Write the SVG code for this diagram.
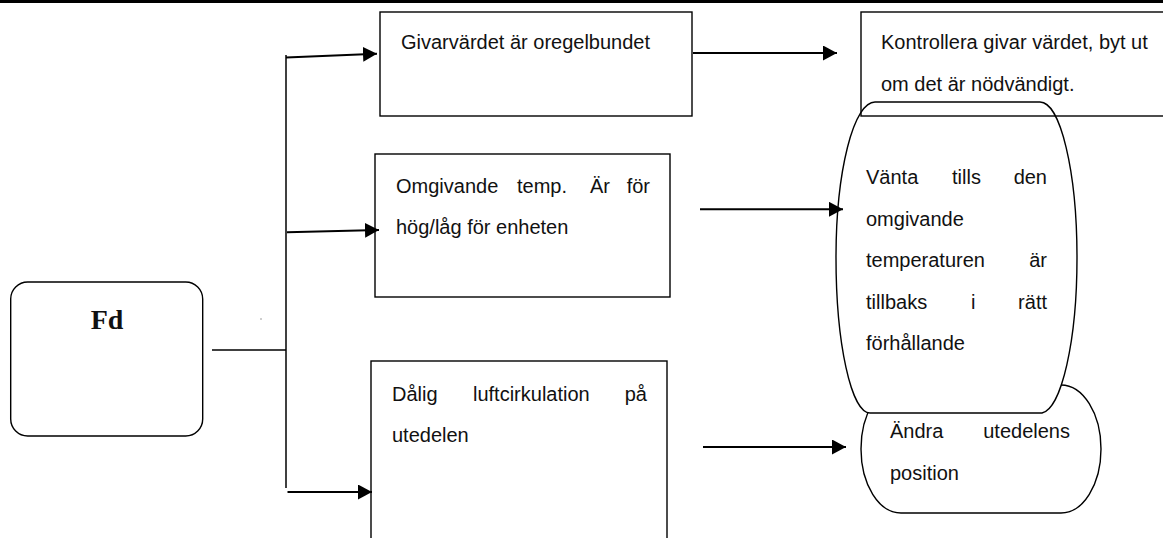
<svg xmlns="http://www.w3.org/2000/svg" width="1163" height="538" viewBox="0 0 1163 538">
  <style>
    .box { fill: #fff; stroke: #000; stroke-width: 1.4; }
    .open { fill: none; stroke: #000; stroke-width: 1.4; }
    .txt { font-family: "Liberation Sans", Arial, sans-serif; font-size: 20px; fill: #111; }
    .end { text-anchor: end; }
    .title { font-family: "Liberation Serif", "Times New Roman", serif; font-size: 28px; font-weight: bold; fill: #111; text-anchor: middle; }
    .wire { fill: none; stroke: #000; stroke-width: 2; }
    .thin { fill: none; stroke: #000; stroke-width: 1.5; }
  </style>
  <defs>
    <marker id="head" markerUnits="userSpaceOnUse" markerWidth="15" markerHeight="15" refX="14" refY="7.5" orient="auto">
      <path d="M0,0 L14,7.5 L0,15 Z" fill="#000"/>
    </marker>
  </defs>

  <rect width="1163" height="538" fill="#fff"/>
  <!-- header rule -->
  <rect x="0" y="0" width="1163" height="3" fill="#000"/>

  <!-- start node -->
  <g id="fd">
    <rect class="box" x="10.7" y="282" width="192" height="154" rx="17" ry="17"/>
    <text class="title" x="107" y="329">Fd</text>
  </g>

  <!-- causes -->
  <g id="cause-sensor">
    <rect class="box" x="380" y="12" width="312" height="104"/>
    <text class="txt" x="401" y="49">Givarvärdet är oregelbundet</text>
  </g>

  <g id="cause-temp">
    <rect class="box" x="375" y="154" width="295" height="143"/>
    <text class="txt" x="396" y="193">Omgivande</text>
    <text class="txt" x="517" y="193">temp.</text>
    <text class="txt" x="590" y="193">Är</text>
    <text class="txt end" x="650" y="193">för</text>
    <text class="txt" x="396" y="234">hög/låg för enheten</text>
  </g>

  <g id="cause-air">
    <rect class="box" x="371" y="361" width="296" height="200"/>
    <text class="txt" x="392" y="401">Dålig</text>
    <text class="txt" x="473" y="401">luftcirkulation</text>
    <text class="txt end" x="647" y="401">på</text>
    <text class="txt" x="392" y="442">utedelen</text>
  </g>

  <!-- remedies -->
  <g id="remedy-move">
    <path class="box" d="M901,385 H1061 A40,64 0 0 1 1101,449 A40,64 0 0 1 1061,513 H901 A40,64 0 0 1 861,449 A40,64 0 0 1 901,385 Z"/>
    <text class="txt" x="890" y="438">Ändra</text>
    <text class="txt end" x="1070" y="438">utedelens</text>
    <text class="txt" x="890" y="480">position</text>
  </g>

  <g id="remedy-wait">
    <path class="box" d="M875,102 H1040 A37,155.5 0 0 1 1077,257.5 A37,155.5 0 0 1 1042,413 H870 A34,155.5 0 0 1 836,257.5 A39,155.5 0 0 1 875,102 Z"/>
    <text class="txt" x="866" y="184">Vänta</text>
    <text class="txt" x="952" y="184">tills</text>
    <text class="txt end" x="1047" y="184">den</text>
    <text class="txt" x="866" y="226">omgivande</text>
    <text class="txt" x="866" y="267">temperaturen</text>
    <text class="txt end" x="1047" y="267">är</text>
    <text class="txt" x="866" y="309">tillbaks</text>
    <text class="txt" x="971" y="309">i</text>
    <text class="txt end" x="1047" y="309">rätt</text>
    <text class="txt" x="866" y="350">förhållande</text>
  </g>

  <g id="remedy-sensor">
    <rect class="open" x="861" y="12" width="310" height="104"/>
    <text class="txt" x="881" y="49">Kontrollera givar värdet, byt ut</text>
    <text class="txt" x="881" y="91">om det är nödvändigt.</text>
  </g>

  <!-- connectors -->
  <g id="connectors">
    <line class="thin" x1="212" y1="350" x2="286" y2="350"/>
    <line class="thin" x1="286" y1="55" x2="286" y2="488"/>
    <line class="wire" x1="286" y1="57.5" x2="377" y2="53.7" marker-end="url(#head)"/>
    <line class="wire" x1="287" y1="232.3" x2="379" y2="230" marker-end="url(#head)"/>
    <line class="wire" x1="287.5" y1="492" x2="372" y2="492" marker-end="url(#head)"/>
    <line class="wire" x1="693" y1="53" x2="837" y2="53" marker-end="url(#head)"/>
    <line class="wire" x1="700" y1="209.3" x2="843" y2="209.3" marker-end="url(#head)"/>
    <line class="wire" x1="703" y1="447" x2="846" y2="447" marker-end="url(#head)"/>
  </g>

  <!-- stray mark -->
  <circle cx="261" cy="319" r="0.7" fill="#777"/>
</svg>
